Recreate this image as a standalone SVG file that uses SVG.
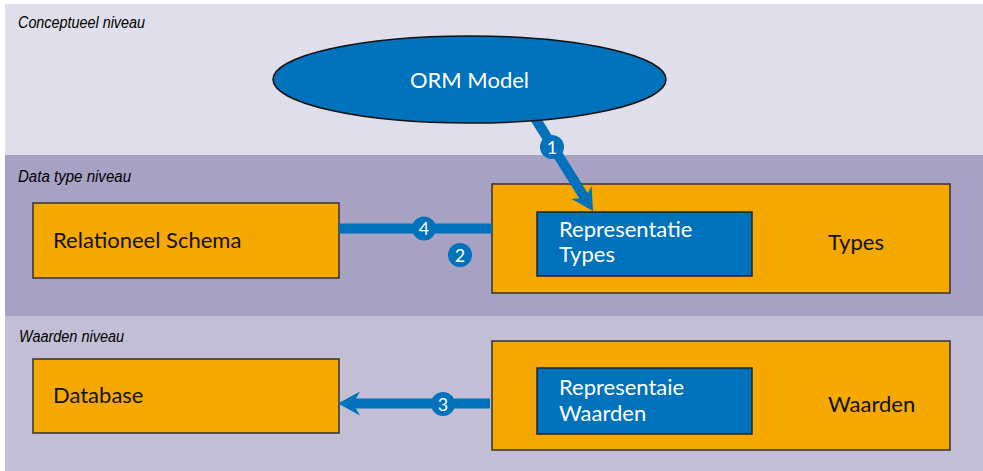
<svg xmlns="http://www.w3.org/2000/svg" width="983" height="471" viewBox="0 0 983 471">
<style>
.band1{fill:#dfdeea}
.band2{fill:#a7a1c4}
.band3{fill:#c2bed6}
.lvl{font-family:"Liberation Sans",Arial,sans-serif;font-style:italic;font-size:16px;fill:#000}
.box{fill:#f5a800;stroke:#333;stroke-width:1.5}
.inner{fill:#0072bc;stroke:#222;stroke-width:1.5}
.txt{font-family:Lato,"Liberation Sans",sans-serif;font-size:22px;fill:#111}
.wtxt{font-family:Lato,"Liberation Sans",sans-serif;font-size:22px;fill:#fff}
.conn{stroke:#0072bc;stroke-width:10;fill:none}
.badge{fill:#0072bc}
.num{font-family:Lato,"Liberation Sans",sans-serif;font-size:18px;fill:#fff;text-anchor:middle}
</style>
<defs>
<marker id="ah" markerUnits="userSpaceOnUse" viewBox="0 -13 24 26" markerWidth="24" markerHeight="26" refX="7" refY="0" orient="auto">
<path d="M0,-12 L22,0 L0,12 L7,0 Z" fill="#0072bc"/>
</marker>
</defs>
<g id="bands">
<rect class="band1" x="5" y="4" width="978" height="151"/>
<rect class="band2" x="5" y="155" width="978" height="161"/>
<rect class="band3" x="5" y="316" width="978" height="155"/>
<text class="lvl" x="18" y="28" textLength="127" lengthAdjust="spacingAndGlyphs">Conceptueel niveau</text>
<text class="lvl" x="18" y="182" textLength="113" lengthAdjust="spacingAndGlyphs">Data type niveau</text>
<text class="lvl" x="19" y="342" textLength="105" lengthAdjust="spacingAndGlyphs">Waarden niveau</text>
</g>
<g id="relationeel">
<rect class="box" x="33" y="203" width="306" height="75"/>
<text class="txt" x="53" y="248">Relationeel Schema</text>
</g>
<g id="types">
<rect class="box" x="492" y="184" width="458" height="109"/>
<text class="txt" x="828" y="250">Types</text>
</g>
<g id="reptypes">
<rect class="inner" x="537" y="212" width="215" height="64"/>
<text class="wtxt" x="559" y="237">Representatie</text>
<text class="wtxt" x="559" y="262">Types</text>
</g>
<g id="database">
<rect class="box" x="33" y="359" width="306" height="74"/>
<text class="txt" x="53" y="403">Database</text>
</g>
<g id="waarden">
<rect class="box" x="492" y="341" width="458" height="109"/>
<text class="txt" x="828" y="412">Waarden</text>
</g>
<g id="repwaarden">
<rect class="inner" x="537" y="368" width="215" height="66"/>
<text class="wtxt" x="559" y="395">Representaie</text>
<text class="wtxt" x="559" y="421">Waarden</text>
</g>
<g id="connectors">
<path class="conn" d="M530,110 L585.1,198.3" marker-end="url(#ah)"/>
<path class="conn" d="M339,228.5 L492,228.5"/>
<path class="conn" d="M490,403.5 L353,403.5" marker-end="url(#ah)"/>
</g>
<g id="orm">
<ellipse cx="469.5" cy="79.5" rx="196.5" ry="43.5" fill="#0072bc" stroke="#111" stroke-width="1.5"/>
<text class="wtxt" x="469.5" y="88" text-anchor="middle" font-size="24">ORM Model</text>
</g>
<g id="badges">
<circle class="badge" cx="552" cy="147" r="12"/>
<text class="num" x="552" y="153.5">1</text>
<circle class="badge" cx="424" cy="228.5" r="12"/>
<text class="num" x="424" y="235">4</text>
<circle class="badge" cx="460" cy="255" r="12"/>
<text class="num" x="460" y="261.5">2</text>
<circle class="badge" cx="443" cy="404" r="12"/>
<text class="num" x="443" y="410.5">3</text>
</g>
</svg>
